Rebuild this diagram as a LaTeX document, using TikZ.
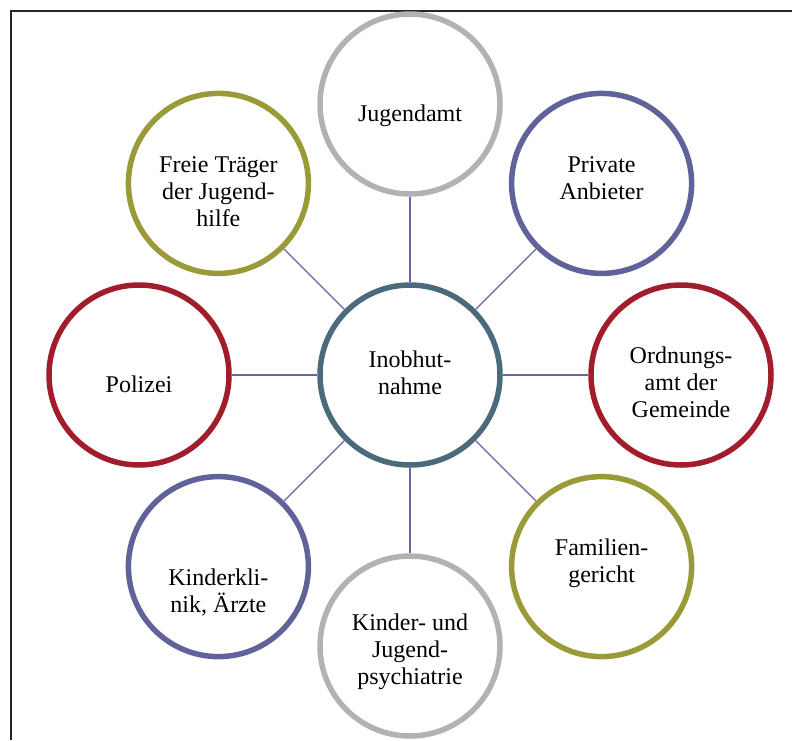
\documentclass[tikz,border=0pt]{standalone}
\usepackage{fontspec}
\setmainfont{Liberation Serif}
\usetikzlibrary{calc}
\definecolor{ringgray}{HTML}{B2B2B2}
\definecolor{ringblue}{HTML}{62629A}
\definecolor{ringred}{HTML}{A11D2C}
\definecolor{ringolive}{HTML}{9B9A38}
\definecolor{hubteal}{HTML}{4B6B7C}
\definecolor{spoke}{HTML}{6A64A4}
\tikzset{
  bubble/.style={circle, draw=#1, line width=5.5pt, fill=white, inner sep=0pt,
    minimum size=180pt},
  caption/.style={align=center, inner sep=0pt,
    font=\fontsize{24}{27}\selectfont},
  spokeline/.style={draw=spoke, line width=1.3pt}
}
\begin{document}
\begin{tikzpicture}[x=1pt, y=-1pt]
\useasboundingbox (0,0) rectangle (792,740);
% frame
\draw[line width=2pt, black!85] (11,740) -- (11,11) -- (792,11);
% circles
\node[bubble=hubteal]   (hub)  at (410,375)     {};
\node[bubble=ringgray]  (jug)  at (410,104)     {};
\node[bubble=ringblue]  (priv) at (601.6,183.4) {};
\node[bubble=ringred]   (ord)  at (681,375)     {};
\node[bubble=ringolive] (fam)  at (601.6,566.6) {};
\node[bubble=ringgray]  (kjp)  at (410,646)     {};
\node[bubble=ringblue]  (kkl)  at (218.4,566.6) {};
\node[bubble=ringred]   (pol)  at (139,375)     {};
\node[bubble=ringolive] (frei) at (218.4,183.4) {};
% spokes
\foreach \s in {jug,priv,ord,fam,kjp,kkl,pol,frei}
  \draw[spokeline] (hub) -- (\s);
% captions
\node[caption] (hub-t)  at ($(hub)+(0,-2.5)$)  {Inobhut-\\nahme};
\node[caption] (jug-t)  at ($(jug)+(0,12)$)    {Jugendamt};
\node[caption] (priv-t) at ($(priv)+(0,-5.5)$) {Private\\Anbieter};
\node[caption] (ord-t)  at ($(ord)+(0,7.5)$)   {Ordnungs-\\amt der\\Gemeinde};
\node[caption] (fam-t)  at ($(fam)+(0,-3)$)    {Familien-\\gericht};
\node[caption] (kjp-t)  at ($(kjp)+(0,6)$)     {Kinder- und\\Jugend-\\psychiatrie};
\node[caption] (kkl-t)  at ($(kkl)+(0,26)$)    {Kinderkli-\\nik, Ärzte};
\node[caption] (pol-t)  at ($(pol)+(0,9)$)     {Polizei};
\node[caption] (frei-t) at ($(frei)+(0,8)$)    {Freie Träger\\der Jugend-\\hilfe};
\end{tikzpicture}
\end{document}
